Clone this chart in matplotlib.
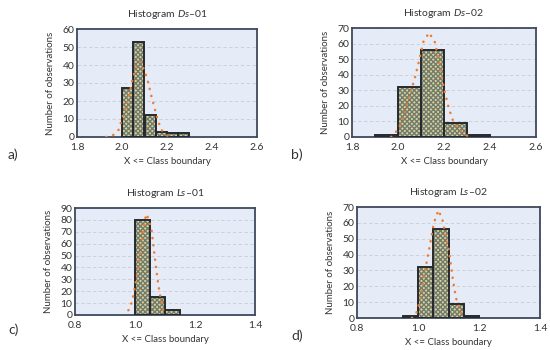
import matplotlib
matplotlib.use("Agg")
import matplotlib.pyplot as plt

plt.rcParams['font.family'] = ['Lato', 'DejaVu Sans']
plt.rcParams['hatch.linewidth'] = 1.0
plt.rcParams['mathtext.fontset'] = 'custom'
plt.rcParams['mathtext.it'] = 'Lato:italic'
plt.rcParams['mathtext.rm'] = 'Lato'

# ---- data ----
a_edges = [2.00, 2.05, 2.10, 2.15, 2.20, 2.25]
a_counts = [27, 53, 12, 3, 2, 2]
a_width = 0.05
a_curve_x = [1.93, 1.96, 1.985, 2.00, 2.015, 2.03, 2.045, 2.06, 2.08, 2.10, 2.115, 2.13, 2.145, 2.16, 2.175, 2.19, 2.21]
a_curve_y = [0, 1, 4, 10, 16, 22, 31, 38, 42, 37, 31, 23, 16, 9, 4, 2, 0]

b_edges = [1.9, 2.0, 2.1, 2.2, 2.3]
b_counts = [1, 32, 56, 9, 1]
b_width = 0.1
b_curve_x = [1.97, 1.99, 2.01, 2.03, 2.05, 2.07, 2.09, 2.11, 2.135, 2.16, 2.18, 2.20, 2.22, 2.24, 2.27, 2.30, 2.32]
b_curve_y = [0, 3, 8, 16, 27, 36, 48, 61, 67, 61, 47, 31, 19, 10, 4, 1, 0]

c_edges = [1.00, 1.05, 1.10]
c_counts = [80, 15, 4]
c_width = 0.05
c_curve_x = [0.978, 0.99, 1.00, 1.01, 1.02, 1.03, 1.037, 1.045, 1.055, 1.063, 1.07, 1.078, 1.086, 1.094]
c_curve_y = [4, 11, 24, 38, 57, 75, 85, 81, 72, 55, 40, 25, 13, 4]

d_edges = [0.95, 1.00, 1.05, 1.10, 1.15]
d_counts = [1, 32, 56, 9, 1]
d_width = 0.05
d_curve_x = [0.98, 0.997, 1.008, 1.019, 1.029, 1.041, 1.052, 1.067, 1.08, 1.091, 1.102, 1.113, 1.124, 1.135, 1.147]
d_curve_y = [0, 4, 12.5, 25, 36, 48, 60, 68, 62, 52, 42, 26, 13, 6, 1]

titles = [r"Histogram $\mathit{Ds}$–01", r"Histogram $\mathit{Ds}$–02",
          r"Histogram $\mathit{Ls}$–01", r"Histogram $\mathit{Ls}$–02"]
panel_labels = ["a)", "b)", "c)", "d)"]
xticks_D = [1.8, 2.0, 2.2, 2.4, 2.6]
xticks_L = [0.8, 1.0, 1.2, 1.4]

fig = plt.figure(figsize=(5.5, 3.5), dpi=100)

W, H = 550.0, 350.0
boxes = [(77, 257, 29, 137), (352, 536, 28, 137), (75, 255, 208, 315), (357, 540, 207, 318)]
label_pos = [(8, 155), (291, 155), (8, 330), (291, 336)]

panels = [
    (a_edges, a_counts, a_width, a_curve_x, a_curve_y, xticks_D, 60),
    (b_edges, b_counts, b_width, b_curve_x, b_curve_y, xticks_D, 70),
    (c_edges, c_counts, c_width, c_curve_x, c_curve_y, xticks_L, 90),
    (d_edges, d_counts, d_width, d_curve_x, d_curve_y, xticks_L, 70),
]

text_col = '#333333'
for i, (edges, counts, width, cx, cy, xt, ymax) in enumerate(panels):
    l, r, t, b = boxes[i]
    ax = fig.add_axes([l / W, 1 - b / H, (r - l) / W, (b - t) / H])
    ax.set_facecolor('#e6ecf7')
    ax.bar(edges, counts, width=width, align='edge', color='#d4d49c',
           edgecolor='#747a6c', hatch='xxxxxxx', linewidth=0, zorder=2)
    ax.bar(edges, counts, width=width, align='edge', fill=False,
           edgecolor='#262a30', linewidth=1.4, zorder=3)
    ax.plot(cx, cy, color='#ee7d2f', linewidth=1.8,
            linestyle=(0, (0.1, 2.8)), dash_capstyle='round', zorder=4)
    ax.set_xlim(xt[0], xt[-1])
    ax.set_ylim(0, ymax)
    ax.set_xticks(xt)
    ax.set_xticklabels([f"{v:.1f}" for v in xt])
    ax.set_yticks(range(0, ymax + 1, 10))
    ax.yaxis.grid(True, color='#c8ccd4', linestyle=(0, (4, 3)), linewidth=0.6)
    ax.set_axisbelow(True)
    ax.tick_params(length=0, labelsize=7.5, colors=text_col)
    ax.tick_params(axis='x', pad=4)
    ax.tick_params(axis='y', pad=2)
    for s in ax.spines.values():
        s.set_color('#3d4a5c')
        s.set_linewidth(1.3)
    ax.set_title(titles[i], fontsize=7.5, color=text_col, pad=9)
    ax.set_xlabel("X <= Class boundary", fontsize=6.9, color=text_col, labelpad=4)
    ax.set_ylabel("Number of observations", fontsize=7.0, color=text_col, labelpad=5)
    fig.text(label_pos[i][0] / W, 1 - label_pos[i][1] / H, panel_labels[i],
             fontsize=10, color=text_col, va='center', ha='left')

fig.savefig("out.png", dpi=100)
